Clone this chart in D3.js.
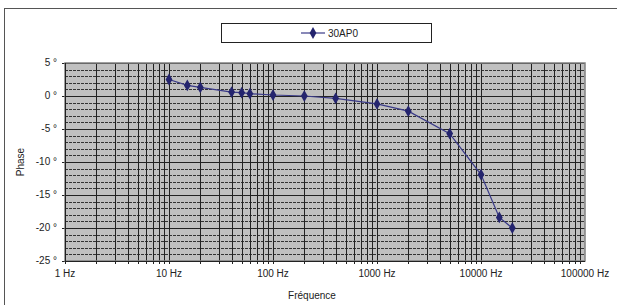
<!DOCTYPE html>
<html>
<head>
<meta charset="utf-8">
<script src="https://cdn.jsdelivr.net/npm/d3@7"></script>
<style>
  body { margin: 0; background: #fff; }
  svg { display: block; font-family: "Liberation Sans", Arial, sans-serif; }
</style>
</head>
<body>
<div id="chart"></div>
<script>
// data
var frequencies = [10, 15, 20, 40, 50, 60, 100, 200, 400, 1000, 2000, 5000, 10000, 15000, 20000];
var phases = [2.5, 1.6, 1.3, 0.6, 0.5, 0.35, 0.15, 0.0, -0.35, -1.2, -2.3, -5.7, -11.9, -18.4, -20.0];
var seriesName = "30AP0";
var xTicks = [1, 10, 100, 1000, 10000, 100000];
var yTicks = [5, 0, -5, -10, -15, -20, -25];

var width = 617, height = 305;
var margin = { top: 63, right: 32, bottom: 44, left: 65 };

var svg = d3.select("#chart").append("svg")
    .attr("width", width)
    .attr("height", height);

// outer chart frame
svg.append("rect")
    .attr("x", 4.5).attr("y", 8.5)
    .attr("width", 640).attr("height", 320)
    .attr("fill", "#fff")
    .attr("stroke", "#555");

var x = d3.scaleLog().domain([1, 100000]).range([margin.left, width - margin.right]);
var y = d3.scaleLinear().domain([-25, 5]).range([height - margin.bottom, margin.top]);

var g = svg.append("g");

// plot background
g.append("rect")
    .attr("x", x(1)).attr("y", y(5))
    .attr("width", x(100000) - x(1)).attr("height", y(-25) - y(5))
    .attr("fill", "#c0c0c0");

// minor horizontal grid (every degree, dashed)
var minorY = d3.range(-24, 5).filter(function(d) { return d % 5 !== 0; });
g.selectAll(".hminor").data(minorY).enter().append("line")
    .attr("x1", x(1)).attr("x2", x(100000))
    .attr("y1", function(d) { return Math.round(y(d)) + 0.5; })
    .attr("y2", function(d) { return Math.round(y(d)) + 0.5; })
    .attr("stroke", "#333")
    .attr("stroke-dasharray", "3,1");

// vertical log grid
var vLines = [];
for (var dec = 1; dec < 100000; dec *= 10) {
    for (var k = 1; k < 10; k++) vLines.push(dec * k);
}
g.selectAll(".vgrid").data(vLines).enter().append("line")
    .attr("x1", function(d) { return Math.round(x(d)) + 0.5; })
    .attr("x2", function(d) { return Math.round(x(d)) + 0.5; })
    .attr("y1", y(5)).attr("y2", y(-25) + 3)
    .attr("stroke", "#222")
    .attr("stroke-width", 1);

// major horizontal grid
g.selectAll(".hmajor").data(yTicks).enter().append("line")
    .attr("x1", x(1) - 3).attr("x2", x(100000))
    .attr("y1", function(d) { return Math.round(y(d)) + 0.5; })
    .attr("y2", function(d) { return Math.round(y(d)) + 0.5; })
    .attr("stroke", "#222");

// plot border
g.append("rect")
    .attr("x", x(1)).attr("y", y(5))
    .attr("width", x(100000) - x(1)).attr("height", y(-25) - y(5))
    .attr("fill", "none")
    .attr("stroke", "#808080")
    .attr("stroke-width", 1.5);
g.append("line")
    .attr("x1", x(1) + 0.5).attr("x2", x(1) + 0.5)
    .attr("y1", y(5)).attr("y2", y(-25))
    .attr("stroke", "#222");
g.append("line")
    .attr("x1", x(1)).attr("x2", x(100000))
    .attr("y1", y(-25) + 0.5).attr("y2", y(-25) + 0.5)
    .attr("stroke", "#222");

// y tick labels
g.selectAll(".ylab").data(yTicks).enter().append("text")
    .attr("x", x(1) - 8)
    .attr("y", function(d) { return y(d) + 3; })
    .attr("text-anchor", "end")
    .attr("font-size", 10)
    .attr("fill", "#222")
    .text(function(d) { return d + " °"; });

// x tick labels
g.selectAll(".xlab").data(xTicks).enter().append("text")
    .attr("x", function(d) { return x(d); })
    .attr("y", y(-25) + 16)
    .attr("text-anchor", "middle")
    .attr("font-size", 10)
    .attr("fill", "#222")
    .text(function(d) { return d + " Hz"; });

// axis titles
svg.append("text")
    .attr("x", 312).attr("y", 299)
    .attr("text-anchor", "middle")
    .attr("font-size", 10)
    .attr("fill", "#222")
    .text("Fréquence");
svg.append("text")
    .attr("transform", "translate(24," + ((y(5) + y(-25)) / 2) + ") rotate(-90)")
    .attr("text-anchor", "middle")
    .attr("font-size", 10)
    .attr("fill", "#222")
    .text("Phase");

// series
var points = frequencies.map(function(f, i) { return [f, phases[i]]; });
var line = d3.line()
    .x(function(d) { return x(d[0]); })
    .y(function(d) { return y(d[1]); });
var diamond = d3.symbol().type(d3.symbolDiamond).size(40);

g.append("path")
    .datum(points)
    .attr("d", line)
    .attr("fill", "none")
    .attr("stroke", "#3a3a88")
    .attr("stroke-width", 1.2);

g.selectAll(".pt").data(points).enter().append("path")
    .attr("d", diamond)
    .attr("transform", function(d) { return "translate(" + x(d[0]) + "," + y(d[1]) + ")"; })
    .attr("fill", "#24246e");

// legend
var leg = svg.append("g");
leg.append("rect")
    .attr("x", 221.5).attr("y", 23.5)
    .attr("width", 210).attr("height", 19)
    .attr("fill", "#fff")
    .attr("stroke", "#222");
leg.append("line")
    .attr("x1", 301).attr("x2", 325)
    .attr("y1", 33).attr("y2", 33)
    .attr("stroke", "#3a3a88")
    .attr("stroke-width", 1.2);
leg.append("path")
    .attr("d", diamond)
    .attr("transform", "translate(313,33)")
    .attr("fill", "#24246e");
leg.append("text")
    .attr("x", 328).attr("y", 36.5)
    .attr("font-size", 10)
    .attr("fill", "#222")
    .text(seriesName);
</script>
</body>
</html>
